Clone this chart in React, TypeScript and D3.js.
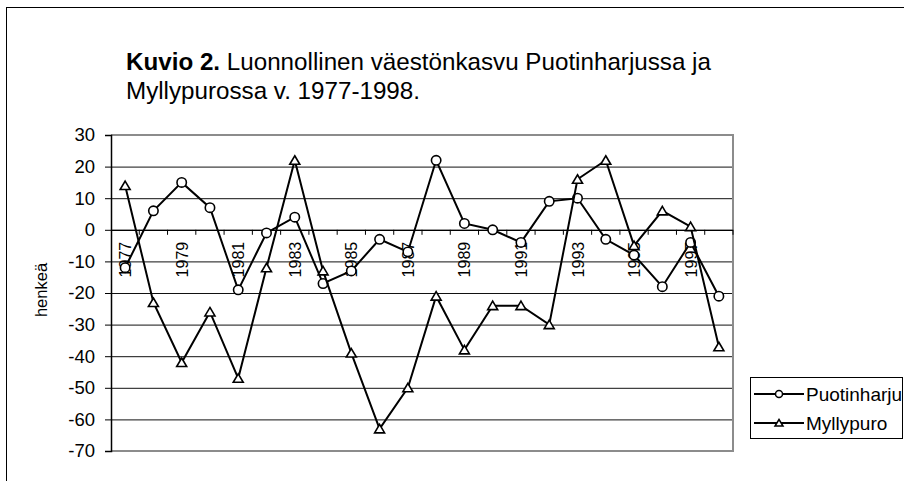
import React, { useEffect, useRef } from "react";
import * as d3 from "d3";

const years = [
  "1977", "1978", "1979", "1980", "1981", "1982", "1983", "1984", "1985", "1986", "1987",
  "1988", "1989", "1990", "1991", "1992", "1993", "1994", "1995", "1996", "1997", "1998",
];
const puotinharju = [-12, 6, 15, 7, -19, -1, 4, -17, -13, -3, -7, 22, 2, 0, -4, 9, 10, -3, -8, -18, -4, -21];
const myllypuro = [14, -23, -42, -26, -47, -12, 22, -13, -39, -63, -50, -21, -38, -24, -24, -30, 16, 22, -5, 6, 1, -37];
const yTicks = [30, 20, 10, 0, -10, -20, -30, -40, -50, -60, -70];

function App() {
  const svgRef = useRef<SVGSVGElement>(null);

  useEffect(() => {
    const svg = d3.select(svgRef.current);
    svg.selectAll("*").remove();
    const width = 904;
    const height = 481;
    const plot = { left: 111, right: 733, top: 135, bottom: 451 };
    const font = "Arial, 'Liberation Sans', sans-serif";

    // outer frame
    svg
      .append("rect")
      .attr("x", 6.5)
      .attr("y", 7.5)
      .attr("width", width + 20)
      .attr("height", height + 20)
      .attr("fill", "white")
      .attr("stroke", "#000")
      .attr("stroke-width", 1);

    // title
    const title = svg
      .append("text")
      .attr("font-family", font)
      .attr("font-size", 24.2)
      .attr("fill", "#000");
    title
      .append("tspan")
      .attr("x", 126)
      .attr("y", 70)
      .attr("font-weight", "bold")
      .text("Kuvio 2.");
    title.append("tspan").text(" Luonnollinen väestönkasvu Puotinharjussa ja");
    title
      .append("tspan")
      .attr("x", 126)
      .attr("y", 99)
      .text("Myllypurossa v. 1977-1998.");

    const xScale = d3
      .scaleBand()
      .domain(years)
      .range([plot.left, plot.right]);
    const yScale = d3
      .scaleLinear()
      .domain([-70, 30])
      .range([plot.bottom, plot.top]);
    const cx = (i: number) => (xScale(years[i]) as number) + xScale.bandwidth() / 2;

    // gridlines
    svg
      .append("g")
      .selectAll("line")
      .data(yTicks.slice(1, -1))
      .join("line")
      .attr("x1", plot.left)
      .attr("x2", plot.right)
      .attr("y1", (d) => yScale(d) + 0.5)
      .attr("y2", (d) => yScale(d) + 0.5)
      .attr("stroke", "#111")
      .attr("stroke-width", 1);

    // plot border (gray)
    svg
      .append("path")
      .attr(
        "d",
        `M${plot.left},${plot.top}H${plot.right}V${plot.bottom}H${plot.left}`
      )
      .attr("fill", "none")
      .attr("stroke", "#8c8c8c")
      .attr("stroke-width", 2);

    // Y-axis
    const yAxis = d3
      .axisLeft(yScale)
      .tickValues(yTicks)
      .tickSize(6)
      .tickPadding(10)
      .tickFormat((d) => `${d}`);
    const yg = svg
      .append("g")
      .attr("transform", `translate(${plot.left}, 0)`)
      .call(yAxis);
    yg.select(".domain").attr("stroke", "#000").attr("stroke-width", 1.5);
    yg.selectAll(".tick line").attr("stroke", "#000");
    yg.selectAll(".tick text")
      .attr("font-family", font)
      .attr("font-size", 18.5)
      .attr("fill", "#000");

    // X-axis on the zero line, ticks between categories
    const y0 = yScale(0);
    svg
      .append("line")
      .attr("x1", plot.left)
      .attr("x2", plot.right)
      .attr("y1", y0 + 0.5)
      .attr("y2", y0 + 0.5)
      .attr("stroke", "#000")
      .attr("stroke-width", 1.2);
    svg
      .append("g")
      .selectAll("line")
      .data(years.slice(1).concat(["end"]))
      .join("line")
      .attr("x1", (d) => (d === "end" ? plot.right : (xScale(d) as number)))
      .attr("x2", (d) => (d === "end" ? plot.right : (xScale(d) as number)))
      .attr("y1", y0)
      .attr("y2", y0 + 5)
      .attr("stroke", "#000");
    svg
      .append("g")
      .selectAll("text")
      .data(years.filter((d, i) => i % 2 === 0))
      .join("text")
      .attr("transform", (d) => `translate(${cx(years.indexOf(d)) + 6}, ${y0 + 12}) rotate(-90)`)
      .attr("text-anchor", "end")
      .attr("font-family", font)
      .attr("font-size", 16)
      .attr("fill", "#000")
      .text((d) => d);

    // Y-axis label
    svg
      .append("text")
      .attr("transform", `translate(47, 290) rotate(-90)`)
      .attr("text-anchor", "middle")
      .attr("font-family", font)
      .attr("font-size", 16.5)
      .attr("fill", "#000")
      .text("henkeä");

    const lineGenerator = d3
      .line<number>()
      .x((d, i) => cx(i))
      .y((d) => yScale(d));
    const triangle = "M0,-4.5L5,4L-5,4Z";

    // Puotinharju
    svg
      .append("path")
      .datum(puotinharju)
      .attr("fill", "none")
      .attr("stroke", "#000")
      .attr("stroke-width", 2)
      .attr("d", lineGenerator);
    svg
      .append("g")
      .selectAll("circle")
      .data(puotinharju)
      .join("circle")
      .attr("cx", (d, i) => cx(i))
      .attr("cy", (d) => yScale(d))
      .attr("r", 4.7)
      .attr("fill", "white")
      .attr("stroke", "#000")
      .attr("stroke-width", 1.6);

    // Myllypuro
    svg
      .append("path")
      .datum(myllypuro)
      .attr("fill", "none")
      .attr("stroke", "#000")
      .attr("stroke-width", 2)
      .attr("d", lineGenerator);
    svg
      .append("g")
      .selectAll("path")
      .data(myllypuro)
      .join("path")
      .attr("transform", (d, i) => `translate(${cx(i)}, ${yScale(d)})`)
      .attr("d", triangle)
      .attr("fill", "white")
      .attr("stroke", "#000")
      .attr("stroke-width", 1.6);

    // legend
    const legend = svg.append("g").attr("transform", "translate(750, 377)");
    legend
      .append("rect")
      .attr("x", 0.5)
      .attr("y", 0.5)
      .attr("width", 152)
      .attr("height", 61)
      .attr("fill", "white")
      .attr("stroke", "#000");
    const entries = [
      { name: "Puotinharju", marker: "circle" },
      { name: "Myllypuro", marker: "triangle" },
    ];
    entries.forEach((e, i) => {
      const y = 17 + i * 29;
      legend
        .append("line")
        .attr("x1", 4)
        .attr("x2", 54)
        .attr("y1", y)
        .attr("y2", y)
        .attr("stroke", "#000")
        .attr("stroke-width", 2);
      if (e.marker === "circle") {
        legend
          .append("circle")
          .attr("cx", 29)
          .attr("cy", y)
          .attr("r", 3.5)
          .attr("fill", "white")
          .attr("stroke", "#000")
          .attr("stroke-width", 1.5);
      } else {
        legend
          .append("path")
          .attr("transform", `translate(29, ${y})`)
          .attr("d", "M0,-3.5L4,3L-4,3Z")
          .attr("fill", "white")
          .attr("stroke", "#000")
          .attr("stroke-width", 1.5);
      }
      legend
        .append("text")
        .attr("x", 56)
        .attr("y", y + 6.5)
        .attr("font-family", font)
        .attr("font-size", 19)
        .attr("fill", "#000")
        .text(e.name);
    });
  }, []);

  return (
    <svg
      ref={svgRef}
      width={904}
      height={481}
      style={{ position: "absolute", left: 0, top: 0, display: "block" }}
    ></svg>
  );
}

export default App;
